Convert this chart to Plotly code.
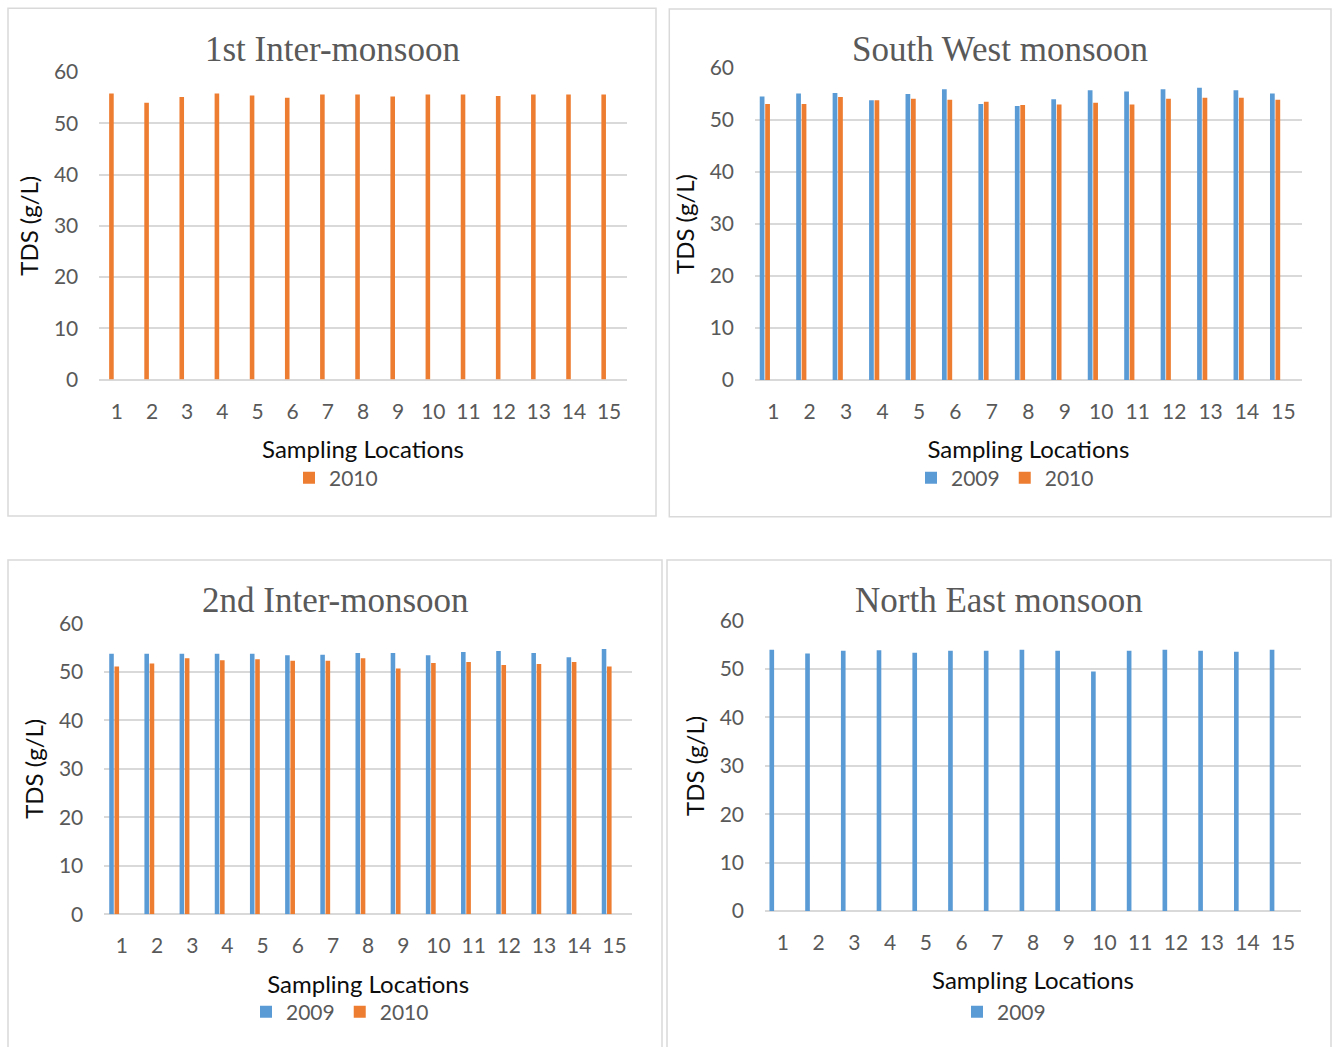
import plotly.graph_objects as go

W, H = 1336, 1047

locations = [str(i) for i in range(1, 16)]

# 1st Inter-monsoon (2010 only)
im1_2010 = [55.8, 54.0, 55.1, 55.8, 55.4, 55.0, 55.6, 55.6, 55.2, 55.6, 55.6, 55.3, 55.6, 55.6, 55.6]
# South West monsoon
sw_2009 = [54.5, 55.1, 55.2, 53.8, 55.0, 55.9, 53.1, 52.7, 54.0, 55.7, 55.5, 55.9, 56.2, 55.7, 55.1]
sw_2010 = [53.1, 53.1, 54.4, 53.8, 54.1, 53.9, 53.5, 52.9, 53.0, 53.3, 53.0, 54.1, 54.3, 54.3, 53.9]
# 2nd Inter-monsoon
im2_2009 = [53.7, 53.7, 53.7, 53.7, 53.7, 53.4, 53.5, 53.9, 53.9, 53.4, 54.1, 54.3, 53.9, 53.0, 54.7]
im2_2010 = [51.1, 51.7, 52.8, 52.4, 52.6, 52.3, 52.3, 52.8, 50.7, 51.8, 52.0, 51.4, 51.6, 52.0, 51.1]
# North East monsoon (2009 only)
ne_2009 = [54.0, 53.2, 53.8, 53.9, 53.4, 53.8, 53.8, 54.0, 53.8, 49.5, 53.8, 54.0, 53.8, 53.6, 54.0]

titles = ["1st Inter-monsoon", "South West monsoon", "2nd Inter-monsoon", "North East monsoon"]
y_ticks = [0, 10, 20, 30, 40, 50, 60]

BLUE = "#5B9BD5"
ORANGE = "#ED7D31"
GRID = "#D9D9D9"
GRAY = "#595959"
TICKFONT = dict(family="Lato", size=21, color=GRAY)
AXFONT = dict(family="Lato", size=24, color="#0D0D0D")
TITLEFONT = dict(family="Liberation Serif", size=35, color=GRAY)

# pixel geometry: (plot x0, x1, y_top(60), y_bottom(0)), (box x0, x1, y0, y1), legend centre
panels = [
    dict(plot=(99.3, 626.7, 72.0, 379.5), box=(8, 656, 8.3, 516), leg=(336, 478)),
    dict(plot=(755.0, 1301.7, 68.0, 380.0), box=(669.3, 1331, 9, 516.7), leg=(1005, 478)),
    dict(plot=(104.3, 632.0, 623.3, 914.3), box=(8, 662, 560, 1100), leg=(340, 1012)),
    dict(plot=(765.0, 1301.0, 620.7, 911.0), box=(667, 1331, 560, 1100), leg=(1004, 1012)),
]

series = [
    [("2010", im1_2010, ORANGE, -0.22)],
    [("2009", sw_2009, BLUE, -0.37), ("2010", sw_2010, ORANGE, -0.22)],
    [("2009", im2_2009, BLUE, -0.36), ("2010", im2_2010, ORANGE, -0.21)],
    [("2009", ne_2009, BLUE, -0.375)],
]

fig = go.Figure()
layout = dict(
    width=W, height=H,
    margin=dict(l=0, r=0, t=0, b=0),
    paper_bgcolor="white", plot_bgcolor="white",
    barmode="overlay",
    shapes=[], annotations=[],
)

for i, p in enumerate(panels):
    n = "" if i == 0 else str(i + 1)
    lg = "legend" if i == 0 else f"legend{i + 1}"
    px0, px1, pyt, pyb = p["plot"]
    for name, vals, col, off in series[i]:
        fig.add_trace(go.Bar(
            x=locations, y=vals, name=name,
            marker=dict(color=col, line=dict(width=0)),
            offset=off, width=0.13,
            xaxis="x" + n, yaxis="y" + n, legend=lg,
            showlegend=True,
        ))
    layout["xaxis" + n] = dict(
        domain=[px0 / W, px1 / W], anchor="y" + n,
        type="category", categoryorder="array", categoryarray=locations,
        showgrid=False, showline=False, zeroline=False, ticks="",
        tickfont=TICKFONT, ticklabelstandoff=17,
        title=dict(text="Sampling Locations", font=AXFONT, standoff=19),
        automargin=False, fixedrange=True,
    )
    layout["yaxis" + n] = dict(
        domain=[1 - pyb / H, 1 - pyt / H], anchor="x" + n,
        range=[0, 60], tickvals=y_ticks,
        showgrid=True, gridcolor=GRID, gridwidth=1.5,
        zeroline=True, zerolinecolor=GRID, zerolinewidth=1.5,
        showline=False, ticks="",
        tickfont=TICKFONT, ticklabelstandoff=20,
        title=dict(text="TDS (g/L)", font=AXFONT, standoff=8),
        automargin=False, fixedrange=True,
    )
    lx, ly = p["leg"]
    layout[lg] = dict(
        x=lx / W, y=1 - ly / H, xanchor="center", yanchor="middle",
        orientation="h", font=dict(family="Lato", size=21, color=GRAY),
        bgcolor="rgba(0,0,0,0)", itemwidth=30, traceorder="normal",
        itemclick=False, itemdoubleclick=False,
    )
    bx0, bx1, by0, by1 = p["box"]
    layout["shapes"].append(dict(
        type="rect", xref="paper", yref="paper",
        x0=bx0 / W, x1=bx1 / W, y0=1 - by1 / H, y1=1 - by0 / H,
        line=dict(color=GRID, width=1.5), fillcolor="rgba(0,0,0,0)", layer="below",
    ))
    layout["annotations"].append(dict(
        text=titles[i], xref="paper", yref="paper",
        x=((bx0 + bx1) / 2) / W, y=1 - (49 if i < 2 else 600) / H,
        xanchor="center", yanchor="middle", showarrow=False, font=TITLEFONT,
    ))

fig.update_layout(**layout)
fig.write_html("out.html", config={"displayModeBar": False},
               post_script="document.body.style.margin='0';")
